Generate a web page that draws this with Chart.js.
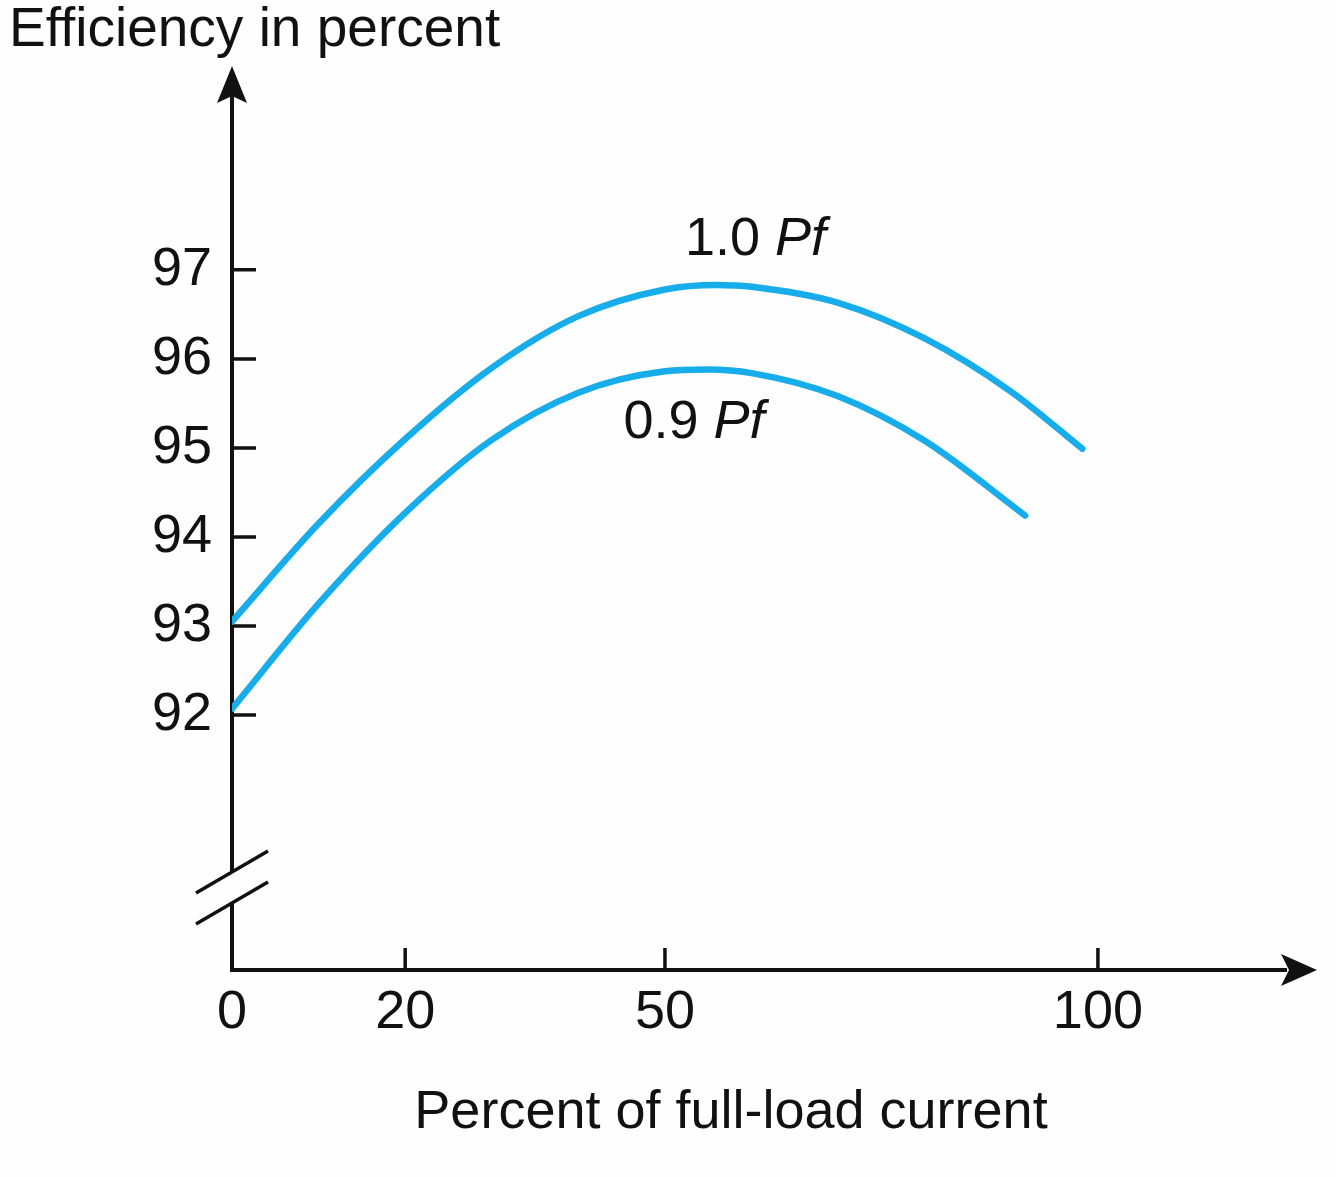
<!DOCTYPE html>
<html>
<head>
<meta charset="utf-8">
<script src="https://cdn.jsdelivr.net/npm/chart.js@4.4.1/dist/chart.umd.min.js"></script>
<style>
  html, body { margin: 0; padding: 0; background: #fefefe; }
  canvas { display: block; }
</style>
</head>
<body>
<canvas id="chart" width="1336" height="1177"></canvas>
<script>
// load in percent of full-load current / efficiency in percent
var load10 = [0, 10, 20, 30, 40, 50, 56, 60, 70, 80, 90, 98.2];
var eff10 = [93.05, 94.15, 95.10, 95.90, 96.48, 96.78, 96.83, 96.81, 96.63, 96.23, 95.63, 94.99];
var load09 = [0, 10, 20, 30, 40, 50, 55, 60, 70, 80, 91.6];
var eff09 = [92.07, 93.25, 94.27, 95.09, 95.62, 95.86, 95.88, 95.84, 95.58, 95.08, 94.24];
var xTicks = [0, 20, 50, 100];
var yTicks = [92, 93, 94, 95, 96, 97];
var curveNames = ["1.0", "0.9"];

var ink = "#111";
var blue = "#17acea";
var fontFamily = "'Liberation Sans', Arial, Helvetica, sans-serif";

function pts(xs, ys) {
    var out = [];
    for (var i = 0; i < xs.length; i++) {
        out.push({ x: xs[i], y: ys[i] });
    }
    return out;
}

// axes with arrows, axis break, tick marks, titles and curve labels
var decorations = {
    id: "decorations",
    beforeDatasetsDraw: function (chart) {
        var ctx = chart.ctx;
        var a = chart.chartArea;
        var sx = chart.scales.x;
        var sy = chart.scales.y;
        var x0 = sx.getPixelForValue(0);
        var yb = a.bottom;

        ctx.save();
        ctx.strokeStyle = ink;
        ctx.fillStyle = ink;
        ctx.lineWidth = 4;
        ctx.lineCap = "butt";

        ctx.beginPath();
        ctx.moveTo(x0, a.top + 30);
        ctx.lineTo(x0, yb - 99);
        ctx.moveTo(x0, yb - 67);
        ctx.lineTo(x0, yb);
        ctx.lineTo(a.right - 30, yb);
        ctx.stroke();

        // break slashes
        ctx.lineWidth = 3.5;
        ctx.beginPath();
        ctx.moveTo(x0 - 36, yb - 77);
        ctx.lineTo(x0 + 36, yb - 119);
        ctx.moveTo(x0 - 36, yb - 46);
        ctx.lineTo(x0 + 36, yb - 88);
        ctx.stroke();

        // arrowheads
        ctx.beginPath();
        ctx.moveTo(x0, a.top);
        ctx.lineTo(x0 - 15, a.top + 37);
        ctx.lineTo(x0, a.top + 30);
        ctx.lineTo(x0 + 15, a.top + 37);
        ctx.closePath();
        ctx.fill();
        ctx.beginPath();
        ctx.moveTo(a.right, yb);
        ctx.lineTo(a.right - 36, yb - 16);
        ctx.lineTo(a.right - 28, yb);
        ctx.lineTo(a.right - 36, yb + 16);
        ctx.closePath();
        ctx.fill();

        // tick marks
        ctx.lineWidth = 3.5;
        ctx.beginPath();
        yTicks.forEach(function (v) {
            var p = sy.getPixelForValue(v);
            ctx.moveTo(x0, p);
            ctx.lineTo(x0 + 24, p);
        });
        xTicks.forEach(function (v) {
            var p = sx.getPixelForValue(v);
            if (v === 0) return;
            ctx.moveTo(p, yb);
            ctx.lineTo(p, yb - 22);
        });
        ctx.stroke();

        // axis titles
        ctx.textBaseline = "alphabetic";
        ctx.textAlign = "left";
        ctx.font = "55px " + fontFamily;
        ctx.fillText("Efficiency in percent", 9, 46);
        ctx.font = "54px " + fontFamily;
        ctx.textAlign = "center";
        ctx.fillText("Percent of full-load current", 731, 1128);

        // curve labels: "1.0 Pf" and "0.9 Pf"
        var labelAt = [[52.3, 97.17], [45.2, 95.11]];
        ctx.textAlign = "left";
        curveNames.forEach(function (name, i) {
            var px = sx.getPixelForValue(labelAt[i][0]);
            var py = sy.getPixelForValue(labelAt[i][1]);
            ctx.font = "54px " + fontFamily;
            var lead = name + " ";
            ctx.fillText(lead, px, py);
            var w = ctx.measureText(lead).width;
            ctx.font = "italic 54px " + fontFamily;
            ctx.fillText("Pf", px + w, py);
        });
        ctx.restore();
    }
};

var ctx = document.getElementById("chart").getContext("2d");
new Chart(ctx, {
    type: "line",
    data: {
        datasets: [
            {
                label: "1.0 Pf",
                data: pts(load10, eff10),
                borderColor: blue,
                borderWidth: 6.5,
                borderCapStyle: "round",
                pointRadius: 0,
                cubicInterpolationMode: "monotone",
                fill: false
            },
            {
                label: "0.9 Pf",
                data: pts(load09, eff09),
                borderColor: blue,
                borderWidth: 6.5,
                borderCapStyle: "round",
                pointRadius: 0,
                cubicInterpolationMode: "monotone",
                fill: false
            }
        ]
    },
    options: {
        responsive: false,
        animation: false,
        events: [],
        layout: { padding: { left: 0, right: 19, top: 66, bottom: 0 } },
        plugins: {
            legend: { display: false },
            tooltip: { enabled: false }
        },
        scales: {
            x: {
                type: "linear",
                min: 0,
                max: 125.3,
                grid: { display: false, drawTicks: false },
                border: { display: false },
                afterBuildTicks: function (scale) {
                    scale.ticks = xTicks.map(function (v) { return { value: v }; });
                },
                afterFit: function (scale) { scale.height = 207; },
                ticks: {
                    autoSkip: false,
                    maxRotation: 0,
                    padding: 11,
                    color: ink,
                    font: { family: fontFamily, size: 54 }
                }
            },
            y: {
                type: "linear",
                min: 89.135,
                max: 99.29,
                grid: { display: false, drawTicks: false },
                border: { display: false },
                afterBuildTicks: function (scale) {
                    scale.ticks = yTicks.map(function (v) { return { value: v }; });
                },
                afterFit: function (scale) { scale.width = 232; },
                ticks: {
                    autoSkip: false,
                    padding: 20,
                    color: ink,
                    font: { family: fontFamily, size: 54 }
                }
            }
        }
    },
    plugins: [decorations]
});
</script>
</body>
</html>
